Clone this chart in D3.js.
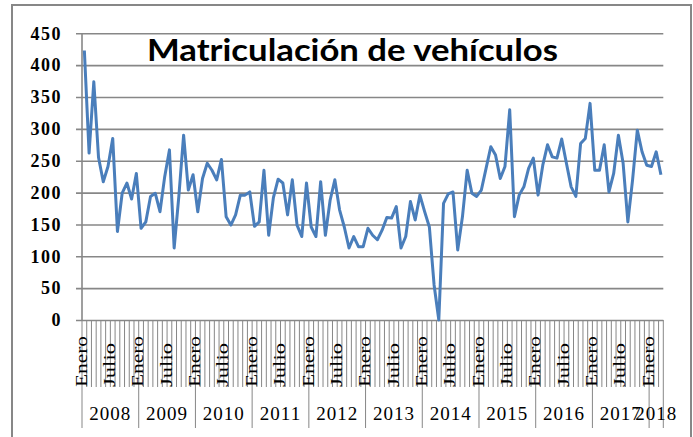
<!DOCTYPE html>
<html>
<head>
<meta charset="utf-8">
<script src="https://cdn.jsdelivr.net/npm/d3@7"></script>
<style>
  body { margin: 0; background: #fff; }
  svg { display: block; }
</style>
</head>
<body>
<svg></svg>
<script>
/* datos */
var anios = ["2008", "2009", "2010", "2011", "2012", "2013", "2014", "2015", "2016", "2017", "2018"];
var mesesAnio = [12, 12, 12, 12, 12, 12, 12, 12, 12, 12, 3];
var etiquetasMes = ["Enero", "", "", "", "", "", "Julio", "", "", "", "", ""];
var yTicks = [0, 50, 100, 150, 200, 250, 300, 350, 400, 450];

var matriculas = [
  423, 262, 374, 255, 217, 241, 285, 139, 199, 215, 190, 230,   // 2008
  144, 154, 194, 199, 170, 225, 267, 113, 195, 290, 204, 228,   // 2009
  170, 222, 246, 235, 220, 252, 162, 149, 165, 196, 196, 201,   // 2010
  147, 154, 235, 133, 192, 221, 215, 165, 220, 149, 131, 215,   // 2011
  146, 131, 217, 133, 188, 220, 173, 146, 113, 131, 115, 115,   // 2012
  144, 133, 126, 141, 161, 160, 178, 113, 131, 186, 157, 196,   // 2013
  170, 146, 55, 0, 183, 198, 201, 110, 162, 235, 199, 194,      // 2014
  204, 238, 272, 259, 222, 241, 330, 162, 196, 209, 238, 254,   // 2015
  196, 243, 275, 256, 254, 284, 246, 209, 194, 277, 285, 340,   // 2016
  235, 235, 275, 201, 230, 290, 246, 154, 220, 298, 264, 243,   // 2017
  241, 264, 228                                                 // 2018
];

/* svg */
var svgWidth = 693;
var svgHeight = 437;
var plot = {left: 82, right: 663.3, top: 33.3, bottom: 320};
var gris = "#878787";

var svg = d3.select("svg")
    .attr("width", svgWidth)
    .attr("height", svgHeight);

// categorias (mes a mes)
var categorias = [];
anios.forEach(function(a, k){
  for (var m = 0; m < mesesAnio[k]; m++) {
    categorias.push({anio: a, mes: m, label: etiquetasMes[m]});
  }
});

var scale = {};
scale.x = d3.scaleBand()
    .domain(d3.range(categorias.length))
    .range([plot.left, plot.right])
    .paddingInner(0).paddingOuter(0);
scale.y = d3.scaleLinear()
    .domain([0, 450])
    .range([plot.bottom, plot.top]);

// borde exterior
svg.append("rect")
    .attr("x", 12).attr("y", 5)
    .attr("width", 679).attr("height", 436)
    .attr("fill", "#fff")
    .attr("stroke", gris)
    .attr("stroke-width", 2);

// rejilla + eje Y
var yAxis = svg.append("g")
    .attr("class", "y_axis")
    .attr("transform", translate(plot.left, 0))
    .call(d3.axisLeft(scale.y)
      .tickValues(yTicks)
      .tickSize(6)
      .tickPadding(14));
yAxis.select(".domain").remove();
yAxis.selectAll(".tick line")
    .attr("x1", -6)
    .attr("x2", plot.right - plot.left)
    .attr("stroke", gris)
    .attr("stroke-width", 1.6);
yAxis.selectAll(".tick text")
    .attr("fill", "#000")
    .attr("font-family", "'Liberation Serif', serif")
    .attr("font-weight", "bold")
    .attr("font-size", 18)
    .attr("letter-spacing", 1.5);

svg.append("line")
    .attr("x1", plot.left).attr("x2", plot.left)
    .attr("y1", plot.top).attr("y2", plot.bottom)
    .attr("stroke", gris).attr("stroke-width", 1.6);

// eje X: divisiones de meses
var bw = scale.x.bandwidth();
var xg = svg.append("g").attr("class", "x_axis");
xg.selectAll("line.mes")
    .data(d3.range(categorias.length + 1))
    .enter().append("line")
    .attr("class", "mes")
    .attr("x1", function(d){ return d < categorias.length ? scale.x(d) : plot.right; })
    .attr("x2", function(d){ return d < categorias.length ? scale.x(d) : plot.right; })
    .attr("y1", plot.bottom)
    .attr("y2", function(d){
      return (d === categorias.length || (d < categorias.length && categorias[d].mes === 0)) ? 428 : 387;
    })
    .attr("stroke", gris)
    .attr("stroke-width", 1);

xg.selectAll("text.mes")
    .data(categorias.map(function(c, i){ return {c: c, i: i}; }).filter(function(d){ return d.c.label !== ""; }))
    .enter().append("text")
    .attr("class", "mes")
    .attr("transform", function(d){
      return translate(scale.x(d.i) + bw / 2 + 2.3, 387) + " rotate(-90)";
    })
    .attr("font-family", "'Liberation Serif', serif")
    .attr("font-size", 16)
    .attr("textLength", function(d){ return d.c.label === "Enero" ? 51 : 44; })
    .attr("lengthAdjust", "spacingAndGlyphs")
    .text(function(d){ return d.c.label; });

// eje X: años
var inicio = 0;
var posAnios = anios.map(function(a, k){
  var s = inicio;
  inicio += mesesAnio[k];
  var x0 = scale.x(s);
  var x1 = inicio < categorias.length ? scale.x(inicio) : plot.right;
  return {anio: a, x: (x0 + x1) / 2};
});
xg.selectAll("text.anio")
    .data(posAnios)
    .enter().append("text")
    .attr("class", "anio")
    .attr("x", function(d){ return d.x; })
    .attr("y", 420)
    .attr("text-anchor", "middle")
    .attr("font-family", "'Liberation Serif', serif")
    .attr("font-size", 19)
    .attr("letter-spacing", 1)
    .text(function(d){ return d.anio; });

// linea
var linea = d3.line()
    .x(function(d, i){ return scale.x(i) + bw / 2; })
    .y(function(d){ return scale.y(d); });
svg.append("path")
    .datum(matriculas)
    .attr("d", linea)
    .attr("fill", "none")
    .attr("stroke", "#4a7ebb")
    .attr("stroke-width", 3)
    .attr("stroke-linejoin", "round");

// titulo
svg.append("text")
    .attr("x", 147)
    .attr("y", 60.5)
    .attr("font-family", "Lato, 'Liberation Sans', sans-serif")
    .attr("font-weight", "bold")
    .attr("font-size", 31)
    .attr("textLength", 411)
    .attr("lengthAdjust", "spacingAndGlyphs")
    .text("Matriculación de vehículos");

function translate(x, y) {
  return "translate(" + x + "," + y + ")";
}
</script>
</body>
</html>
